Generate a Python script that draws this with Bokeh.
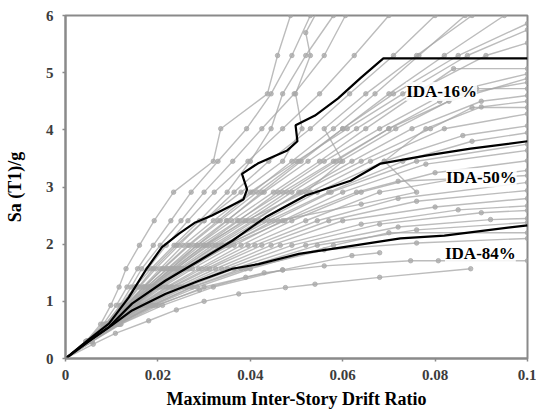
from bokeh.plotting import figure
from bokeh.models import FixedTicker, CustomJSTickFormatter, Label, Range1d
from bokeh.embed import file_html
from bokeh.resources import INLINE

# ---------------- data ----------------
x_ticks = [0, 0.02, 0.04, 0.06, 0.08, 0.1]
y_ticks = [0, 1, 2, 3, 4, 5, 6]

# individual IDA curves (drift, Sa/g)
g01 = [(0, 0), (0.0045, 0.3), (0.0076, 0.6), (0.0098, 0.93), (0.0116, 1.25), (0.0131, 1.57), (0.0160, 1.98), (0.0192, 2.41), (0.0234, 2.91), (0.0320, 3.45), (0.0336, 4.02), (0.0437, 4.63), (0.0459, 5.3), (0.0487, 6.0)]
g02 = [(0, 0), (0.0044, 0.3), (0.0082, 0.6), (0.0110, 0.93), (0.0133, 1.25), (0.0156, 1.57), (0.0190, 1.98), (0.0228, 2.41), (0.0272, 2.91), (0.0330, 3.45), (0.0392, 4.02), (0.0445, 4.63), (0.0490, 5.3), (0.0530, 6.0)]
g03 = [(0, 0), (0.0046, 0.3), (0.0088, 0.6), (0.0118, 0.93), (0.0142, 1.25), (0.0165, 1.57), (0.0205, 1.98), (0.0250, 2.41), (0.0300, 2.91), (0.0362, 3.45), (0.0425, 4.02), (0.0495, 4.63), (0.0560, 5.3), (0.0606, 6.0)]
g04 = [(0, 0), (0.0047, 0.3), (0.0090, 0.6), (0.0125, 0.93), (0.0158, 1.25), (0.0190, 1.57), (0.0240, 1.98), (0.0300, 2.41), (0.0380, 2.91), (0.0470, 3.45), (0.0512, 4.02), (0.0498, 4.63), (0.0530, 5.3), (0.0520, 5.7), (0.0560, 6.3)]
g05 = [(0, 0), (0.0045, 0.3), (0.0088, 0.6), (0.0122, 0.93), (0.0150, 1.25), (0.0178, 1.57), (0.0218, 1.98), (0.0265, 2.41), (0.0322, 2.91), (0.0395, 3.45), (0.0470, 4.02), (0.0550, 4.63), (0.0625, 5.3), (0.0700, 6.0)]
g06 = [(0, 0), (0.0046, 0.3), (0.0090, 0.6), (0.0128, 0.93), (0.0160, 1.25), (0.0195, 1.57), (0.0245, 1.98), (0.0300, 2.41), (0.0365, 2.91), (0.0440, 3.45), (0.0530, 4.02), (0.0615, 4.63), (0.0710, 5.3), (0.0800, 6.0)]
g07 = [(0, 0), (0.0047, 0.3), (0.0093, 0.6), (0.0133, 0.93), (0.0170, 1.25), (0.0210, 1.57), (0.0265, 1.98), (0.0330, 2.41), (0.0405, 2.91), (0.0490, 3.45), (0.0580, 4.02), (0.0670, 4.63), (0.0765, 5.3), (0.0865, 6.0)]
g08 = [(0, 0), (0.0048, 0.3), (0.0095, 0.6), (0.0140, 0.93), (0.0182, 1.25), (0.0228, 1.57), (0.0285, 1.98), (0.0350, 2.41), (0.0425, 2.91), (0.0510, 3.45), (0.0600, 4.02), (0.0700, 4.63), (0.0820, 5.3), (0.0950, 6.0)]
g09 = [(0, 0), (0.0046, 0.3), (0.0091, 0.6), (0.0132, 0.93), (0.0170, 1.25), (0.0212, 1.57), (0.0268, 1.98), (0.0335, 2.41), (0.0415, 2.91), (0.0505, 3.45), (0.0600, 4.02), (0.0710, 4.63), (0.0850, 5.3), (0.1000, 5.86)]
g10 = [(0, 0), (0.0048, 0.3), (0.0094, 0.6), (0.0136, 0.93), (0.0176, 1.25), (0.0220, 1.57), (0.0278, 1.98), (0.0348, 2.41), (0.0430, 2.91), (0.0525, 3.45), (0.0630, 4.02), (0.0750, 4.63), (0.0910, 5.3), (0.1000, 5.52)]
g11 = [(0, 0), (0.0047, 0.3), (0.0093, 0.6), (0.0135, 0.93), (0.0175, 1.25), (0.0222, 1.57), (0.0285, 1.98), (0.0360, 2.41), (0.0450, 2.91), (0.0550, 3.45), (0.0650, 4.02), (0.0760, 4.63), (0.0840, 5.07), (0.1000, 5.07)]
g12 = [(0, 0), (0.0049, 0.3), (0.0097, 0.6), (0.0142, 0.93), (0.0186, 1.25), (0.0235, 1.57), (0.0300, 1.98), (0.0375, 2.41), (0.0460, 2.91), (0.0560, 3.45), (0.0680, 4.02), (0.0820, 4.63), (0.1000, 4.98)]
g13 = [(0, 0), (0.0048, 0.3), (0.0095, 0.6), (0.0140, 0.93), (0.0185, 1.25), (0.0238, 1.57), (0.0310, 1.98), (0.0395, 2.41), (0.0490, 2.91), (0.0595, 3.45), (0.0715, 4.02), (0.0860, 4.63), (0.1000, 4.83)]
g14 = [(0, 0), (0.0047, 0.3), (0.0094, 0.6), (0.0138, 0.93), (0.0180, 1.25), (0.0228, 1.57), (0.0292, 1.98), (0.0372, 2.41), (0.0470, 2.91), (0.0580, 3.45), (0.0700, 4.02), (0.0810, 4.50), (0.0890, 4.72), (0.1000, 4.72)]
g15 = [(0, 0), (0.0050, 0.3), (0.0099, 0.6), (0.0148, 0.93), (0.0195, 1.25), (0.0250, 1.57), (0.0325, 1.98), (0.0410, 2.41), (0.0505, 2.91), (0.0620, 3.45), (0.0750, 4.02), (0.0900, 4.50), (0.1000, 4.60)]
g16 = [(0, 0), (0.0049, 0.3), (0.0098, 0.6), (0.0145, 0.93), (0.0192, 1.25), (0.0245, 1.57), (0.0318, 1.98), (0.0405, 2.41), (0.0510, 2.91), (0.0640, 3.45), (0.0790, 4.02), (0.0880, 4.39), (0.1000, 4.39)]
g17 = [(0, 0), (0.0048, 0.3), (0.0096, 0.6), (0.0144, 0.93), (0.0193, 1.25), (0.0250, 1.57), (0.0330, 1.98), (0.0420, 2.41), (0.0530, 2.91), (0.0660, 3.45), (0.0820, 4.02), (0.1000, 4.28)]
g18 = [(0, 0), (0.0050, 0.3), (0.0100, 0.6), (0.0150, 0.93), (0.0200, 1.25), (0.0258, 1.57), (0.0340, 1.98), (0.0430, 2.41), (0.0545, 2.91), (0.0690, 3.45), (0.0860, 3.90), (0.1000, 4.07)]
g19 = [(0, 0), (0.0049, 0.3), (0.0098, 0.6), (0.0148, 0.93), (0.0198, 1.25), (0.0255, 1.57), (0.0338, 1.98), (0.0440, 2.41), (0.0570, 2.91), (0.0730, 3.45), (0.0880, 3.80), (0.1000, 3.95)]
g20 = [(0, 0), (0.0050, 0.3), (0.0101, 0.6), (0.0152, 0.93), (0.0205, 1.25), (0.0268, 1.57), (0.0350, 1.98), (0.0450, 2.41), (0.0575, 2.91), (0.0760, 3.45), (0.1000, 3.75)]
g21 = [(0, 0), (0.0051, 0.3), (0.0102, 0.6), (0.0155, 0.93), (0.0210, 1.25), (0.0275, 1.57), (0.0365, 1.98), (0.0470, 2.41), (0.0600, 2.91), (0.0780, 3.40), (0.1000, 3.64)]
g22 = [(0, 0), (0.0050, 0.3), (0.0102, 0.6), (0.0158, 0.93), (0.0218, 1.25), (0.0288, 1.57), (0.0380, 1.98), (0.0490, 2.41), (0.0640, 2.91), (0.0800, 3.25), (0.1000, 3.46)]
g23 = [(0, 0), (0.0052, 0.3), (0.0104, 0.6), (0.0160, 0.93), (0.0222, 1.25), (0.0295, 1.57), (0.0395, 1.98), (0.0520, 2.41), (0.0680, 2.91), (0.0850, 3.15), (0.1000, 3.29)]
g24 = [(0, 0), (0.0051, 0.3), (0.0103, 0.6), (0.0162, 0.93), (0.0228, 1.25), (0.0305, 1.57), (0.0410, 1.98), (0.0545, 2.41), (0.0720, 2.80), (0.1000, 3.08)]
g25 = [(0, 0), (0.0053, 0.3), (0.0106, 0.6), (0.0165, 0.93), (0.0232, 1.25), (0.0312, 1.57), (0.0425, 1.98), (0.0570, 2.41), (0.0760, 2.75), (0.1000, 2.94)]
g26 = [(0, 0), (0.0052, 0.3), (0.0105, 0.6), (0.0168, 0.93), (0.0240, 1.25), (0.0325, 1.57), (0.0445, 1.98), (0.0600, 2.41), (0.0800, 2.65), (0.1000, 2.80)]
g27 = [(0, 0), (0.0053, 0.3), (0.0107, 0.6), (0.0172, 0.93), (0.0248, 1.25), (0.0338, 1.57), (0.0465, 1.98), (0.0640, 2.35), (0.0850, 2.60), (0.1000, 2.67)]
g28 = [(0, 0), (0.0054, 0.3), (0.0108, 0.6), (0.0175, 0.93), (0.0255, 1.25), (0.0350, 1.57), (0.0490, 1.98), (0.0680, 2.35), (0.0900, 2.55), (0.1000, 2.59)]
g29 = [(0, 0), (0.0054, 0.3), (0.0110, 0.6), (0.0180, 0.93), (0.0262, 1.25), (0.0365, 1.57), (0.0520, 1.98), (0.0720, 2.30), (0.0920, 2.43), (0.1000, 2.45)]
g30 = [(0, 0), (0.0055, 0.3), (0.0112, 0.6), (0.0185, 0.93), (0.0272, 1.25), (0.0380, 1.57), (0.0545, 1.98), (0.0760, 2.25), (0.1000, 2.38)]
g31 = [(0, 0), (0.0056, 0.3), (0.0115, 0.6), (0.0190, 0.93), (0.0285, 1.25), (0.0400, 1.57), (0.0580, 1.98), (0.0700, 2.20), (0.1000, 2.20)]
g32 = [(0, 0), (0.0057, 0.3), (0.0118, 0.6), (0.0200, 0.93), (0.0300, 1.25), (0.0430, 1.50), (0.0560, 1.62), (0.0747, 1.71), (0.0807, 1.71), (0.1000, 1.71)]
g33 = [(0, 0), (0.0060, 0.25), (0.0108, 0.44), (0.0180, 0.66), (0.0240, 0.85), (0.0300, 1.00), (0.0375, 1.13), (0.0476, 1.24), (0.0540, 1.30), (0.0680, 1.42), (0.0877, 1.57)]
g34 = [(0, 0), (0.0058, 0.3), (0.0120, 0.6), (0.0210, 0.93), (0.0320, 1.25), (0.0470, 1.55), (0.0620, 1.80), (0.0680, 1.85)]
g35 = [(0, 0), (0.0049, 0.3), (0.0097, 0.6), (0.0146, 0.93), (0.0196, 1.25), (0.0255, 1.57), (0.0345, 1.98), (0.0460, 2.41), (0.0640, 2.70), (0.0760, 2.91), (0.0690, 3.45), (0.0780, 4.02), (0.0900, 4.40), (0.1000, 4.50)]
g36 = [(0, 0), (0.0044, 0.3), (0.0086, 0.6), (0.0120, 0.93), (0.0150, 1.25), (0.0185, 1.57), (0.0235, 1.98), (0.0290, 2.41), (0.0350, 2.91), (0.0400, 3.45), (0.0445, 4.02), (0.0470, 4.63), (0.0520, 5.3), (0.0580, 6.0)]
g37 = [(0, 0), (0.0050, 0.3), (0.0100, 0.6), (0.0150, 0.93), (0.0200, 1.25), (0.0262, 1.57), (0.0355, 1.98), (0.0475, 2.41), (0.0630, 2.91), (0.0720, 3.10), (0.1000, 3.20)]
g38 = [(0, 0), (0.0046, 0.3), (0.0090, 0.6), (0.0130, 0.93), (0.0168, 1.25), (0.0205, 1.57), (0.0255, 1.98), (0.0320, 2.41), (0.0400, 2.91), (0.0500, 3.45), (0.0610, 4.02), (0.0730, 4.63), (0.0870, 5.3), (0.1000, 5.75)]
g39 = [(0, 0), (0.0048, 0.3), (0.0096, 0.6), (0.0143, 0.93), (0.0190, 1.25), (0.0240, 1.57), (0.0305, 1.98), (0.0385, 2.41), (0.0480, 2.91), (0.0585, 3.45), (0.0700, 4.02), (0.0830, 4.50), (0.1000, 4.90)]
g40 = [(0, 0), (0.0056, 0.3), (0.0114, 0.6), (0.0188, 0.93), (0.0275, 1.25), (0.0390, 1.57), (0.0560, 1.90), (0.0760, 2.02), (0.1000, 2.10)]
g41 = [(0, 0), (0.0055, 0.3), (0.0112, 0.6), (0.0195, 0.93), (0.0290, 1.20), (0.0390, 1.42), (0.0470, 1.55)]
g42 = [(0, 0), (0.0047, 0.3), (0.0093, 0.6), (0.0138, 0.93), (0.0182, 1.25), (0.0232, 1.57), (0.0300, 1.98), (0.0390, 2.41), (0.0520, 2.91), (0.0600, 3.45), (0.0560, 4.02), (0.0650, 4.63), (0.0760, 5.3), (0.0880, 6.0)]

records = [g01, g02, g03, g04, g05, g06, g07, g08, g09, g10, g11, g12,
           g13, g14, g15, g16, g17, g18, g19, g20, g21, g22, g23, g24,
           g25, g26, g27, g28, g29, g30, g31, g32, g33, g34, g35, g36,
           g37, g38, g39, g40, g41, g42]

# fractile curves
ida16 = [(0, 0), (0.0050, 0.33), (0.0094, 0.61), (0.0137, 1.07), (0.0173, 1.54), (0.0209, 1.95), (0.0245, 2.18), (0.0281, 2.38), (0.0317, 2.50), (0.0385, 2.78), (0.0393, 2.96), (0.0382, 3.23), (0.0416, 3.41), (0.0480, 3.64), (0.0502, 3.80), (0.0498, 4.08), (0.0540, 4.25), (0.0590, 4.55), (0.0639, 4.91), (0.0688, 5.25), (0.1000, 5.25)]
ida50 = [(0, 0), (0.0050, 0.30), (0.0094, 0.55), (0.0144, 0.96), (0.0216, 1.36), (0.0289, 1.71), (0.0361, 2.06), (0.0433, 2.47), (0.0520, 2.85), (0.0617, 3.11), (0.0682, 3.41), (0.0780, 3.55), (0.0877, 3.67), (0.1000, 3.80)]
ida84 = [(0, 0), (0.0050, 0.30), (0.0100, 0.58), (0.0144, 0.84), (0.0216, 1.13), (0.0289, 1.36), (0.0361, 1.57), (0.0418, 1.65), (0.0505, 1.83), (0.0595, 1.94), (0.0725, 2.10), (0.0820, 2.15), (0.1000, 2.33)]

fractiles = [ida16, ida50, ida84]
fractile_names = ["IDA-16%", "IDA-50%", "IDA-84%"]
label_pos = [(0.0814, 4.67), (0.0900, 3.16), (0.0898, 1.84)]

# ---------------- figure ----------------
SERIF = "Liberation Serif"

p = figure(width=536, height=415,
           x_range=Range1d(0, 0.1), y_range=Range1d(0, 6),
           output_backend="svg", toolbar_location=None,
           min_border_left=65, min_border_right=9,
           min_border_top=15, min_border_bottom=57)

p.xgrid.visible = False
p.ygrid.visible = False
p.outline_line_color = "#8a8a8a"
p.outline_line_width = 2
p.background_fill_color = "white"
p.border_fill_color = "white"

# gray record curves
xs = [[d for d, s in r] for r in records]
ys = [[s for d, s in r] for r in records]
p.multi_line(xs, ys, line_color="#a6a6a6", line_alpha=0.75, line_width=1.4)

px = [d for r in records for d, s in r[1:]]
py = [s for r in records for d, s in r[1:]]
p.scatter(px, py, marker="circle", size=4.5, fill_color="#a8a8a8",
          fill_alpha=0.75, line_color="#a8a8a8", line_alpha=0.75)

# fractile curves
for f in fractiles:
    p.line([d for d, s in f], [s for d, s in f], line_color="black", line_width=2.2)

for name, (lx, ly) in zip(fractile_names, label_pos):
    p.add_layout(Label(x=lx, y=ly, text=name, text_align="center",
                       text_baseline="middle", text_font=SERIF,
                       text_font_style="bold", text_font_size="17px",
                       text_color="black",
                       background_fill_color="white", background_fill_alpha=0.85))

# axes
p.xaxis.ticker = FixedTicker(ticks=x_ticks)
p.yaxis.ticker = FixedTicker(ticks=y_ticks)
p.xaxis.formatter = CustomJSTickFormatter(
    code="if (Math.abs(tick) < 1e-9) {return '0';} var s = tick.toFixed(2); if (s.endsWith('0')) {s = s.slice(0, -1);} return s;")
p.yaxis.formatter = CustomJSTickFormatter(code="return tick.toFixed(0);")

for ax in (p.xaxis, p.yaxis):
    ax.axis_line_color = "#8a8a8a"
    ax.axis_line_width = 2
    ax.major_tick_line_color = "#8a8a8a"
    ax.major_tick_line_width = 1.5
    ax.major_tick_out = 3
    ax.major_tick_in = 0
    ax.minor_tick_line_color = None
    ax.major_label_text_font = SERIF
    ax.major_label_text_font_style = "bold"
    ax.major_label_text_font_size = "15px"
    ax.major_label_text_color = "#3c3c3c"
    ax.axis_label_text_font = SERIF
    ax.axis_label_text_font_style = "bold"
    ax.axis_label_text_font_size = "18px"
    ax.axis_label_text_color = "black"

p.xaxis.axis_label = "Maximum Inter-Story Drift Ratio"
p.yaxis.axis_label = "Sa (T1)/g"
p.xaxis.major_label_standoff = 8
p.xaxis.axis_label_standoff = 6
p.yaxis.major_label_standoff = 9
p.yaxis.axis_label_standoff = 18

open("out.html", "w").write(file_html(p, INLINE))
